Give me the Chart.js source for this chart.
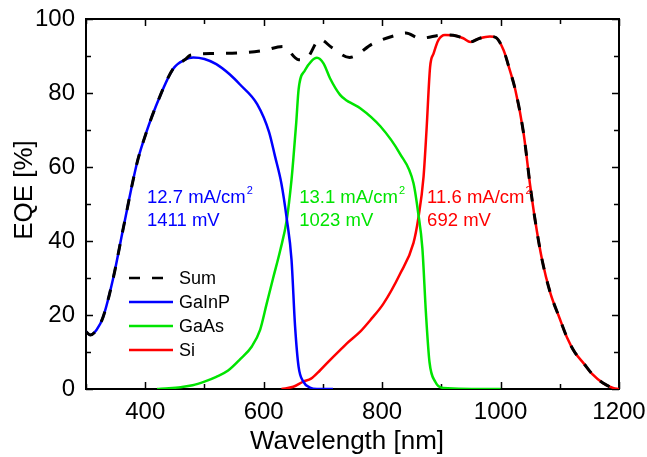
<!DOCTYPE html>
<html>
<head>
<meta charset="utf-8">
<script src="https://cdn.jsdelivr.net/npm/chart.js@4/dist/chart.umd.min.js"></script>
<style>
  html, body { margin: 0; padding: 0; background: #fff; }
  #wrap { width: 647px; height: 457px; }
</style>
</head>
<body>
<div id="wrap"><canvas id="eqe"></canvas></div>
<script>
//Datos (longitud de onda en nm, EQE en %)
const sumNm  = [300,307,318,329,346,363,386,397,417,447,467,476,515,555,597,633,659,672,695,715,745,785,825,840,864,906,920,937,949,965,982,992,1005,1015,1025,1039,1050,1058,1070,1084,1100,1112,1125,1140,1155,1173,1190,1200];
const sumEqe = [15.5,14.6,16,19.5,30,43.5,61,67,76,86.5,89,90.2,90.7,90.8,91.4,92.6,89,89.3,94.5,92.3,89.6,93.4,95.7,96.2,94.8,95.7,95.6,94.8,93.8,94.8,95.3,95,91.6,86.5,80.8,69,55,46,35,26,19,14,10,7,4,1.6,0.3,0];

const gainpNm  = [300,307,318,329,346,363,386,397,417,447,467,481,500,520,543,560,589,609,619,630,639,647,653,659,667,678,690,717];
const gainpEqe = [15.5,14.6,16,19.5,30,43.5,61,67,76,86.5,89,89.6,89.2,87.8,85,82.3,77,69.5,63,55.5,46,35,17,6,2,0.4,0,0];

const gaasNm  = [420,440,460,480,500,520,540,560,580,594,605,616,628,639,647,650,655,659,670,680,690,701,712,729,740,751,763,797,830,853,861,868,874,880,890,903,1000];
const gaasEqe = [0,0.2,0.5,1,2,3.3,5,8,11.5,16,23,30,37.5,45.7,56.5,62,72,81,86.2,88.5,89.5,88,84,79.5,78,77,75.9,71,63.6,55.6,47.5,38,20.5,7.3,1.9,0.3,0];

const siNm  = [630,650,667,680,695,712,729,741,763,780,802,830,853,861,870,875,881,887,895,906,920,937,949,965,982,992,1005,1015,1025,1039,1050,1058,1070,1084,1100,1112,1125,1140,1155,1173,1190,1200];
const siEqe = [0,0.6,2,2.8,5,7.8,10.5,12.4,15.5,18.6,23,31,39.5,46,57.4,70,87,90.7,94.3,95.7,95.6,94.8,93.8,94.8,95.3,95,91.6,86.5,80.8,69,55,46,35,26,19,14,10,7,4,1.6,0.3,0];

const seriesNames = ['Sum', 'GaInP', 'GaAs', 'Si'];
const xTickValues = [400, 600, 800, 1000, 1200];
const yTickValues = [0, 20, 40, 60, 80, 100];
const xTitle = 'Wavelength [nm]';
const yTitle = 'EQE [%]';
const currentLabels = ['12.7 mA/cm', '13.1 mA/cm', '11.6 mA/cm'];
const voltageLabels = ['1411 mV', '1023 mV', '692 mV'];

const colores = ['#000000', '#0000ff', '#00e400', '#ff0000'];
const fuente = '"Liberation Sans", Arial, sans-serif';

function puntos(xs, ys) {
  return xs.map((x, i) => ({ x: x, y: ys[i] }));
}

//Marco con ticks hacia dentro en los cuatro lados
const marco = {
  id: 'marco',
  beforeDatasetsDraw(chart) {
    const ctx = chart.ctx;
    const a = chart.chartArea;
    const xs = chart.scales.x, ys = chart.scales.y;
    ctx.save();
    ctx.strokeStyle = '#000';
    ctx.lineWidth = 1.5;
    ctx.beginPath();
    for (let v = 300; v <= 1200; v += 100) {
      const px = Math.round(xs.getPixelForValue(v)) + 0.5;
      const len = v % 200 === 0 ? 7 : 5;
      ctx.moveTo(px, a.bottom); ctx.lineTo(px, a.bottom - len);
      ctx.moveTo(px, a.top); ctx.lineTo(px, a.top + len);
    }
    for (let v = 0; v <= 100; v += 10) {
      const py = Math.round(ys.getPixelForValue(v)) + 0.5;
      const len = v % 20 === 0 ? 7 : 5;
      ctx.moveTo(a.left, py); ctx.lineTo(a.left + len, py);
      ctx.moveTo(a.right, py); ctx.lineTo(a.right - len, py);
    }
    ctx.stroke();
    ctx.lineWidth = 2;
    ctx.strokeRect(a.left, a.top, a.right - a.left, a.bottom - a.top);

    // titulos de los ejes
    ctx.fillStyle = '#000';
    ctx.font = '26px ' + fuente;
    ctx.textAlign = 'center';
    ctx.textBaseline = 'alphabetic';
    ctx.fillText(xTitle, 347, 449);
    ctx.translate(31.5, 190);
    ctx.rotate(-Math.PI / 2);
    ctx.fillText(yTitle, 0, 0);
    ctx.restore();
  }
};

//Leyenda dentro del area y textos de corriente/voltaje
const textos = {
  id: 'textos',
  afterDatasetsDraw(chart) {
    const ctx = chart.ctx;
    const xs = chart.scales.x, ys = chart.scales.y;
    ctx.save();
    // leyenda
    const filas = [278, 302, 326, 350];
    chart.data.datasets.forEach((ds, i) => {
      ctx.strokeStyle = ds.borderColor;
      ctx.lineWidth = 2.5;
      ctx.setLineDash(ds.borderDash || []);
      ctx.beginPath();
      ctx.moveTo(129, filas[i]);
      ctx.lineTo(173, filas[i]);
      ctx.stroke();
      ctx.setLineDash([]);
      ctx.fillStyle = '#000';
      ctx.font = '18px ' + fuente;
      ctx.textBaseline = 'middle';
      ctx.textAlign = 'left';
      ctx.fillText(ds.label, 179, filas[i] + 1);
    });
    // anotaciones
    const posX = [403, 660, 876];
    currentLabels.forEach((t, i) => {
      const x = xs.getPixelForValue(posX[i]);
      const y = ys.getPixelForValue(50.3);
      ctx.fillStyle = colores[i + 1];
      ctx.textBaseline = 'alphabetic';
      ctx.font = '18.5px ' + fuente;
      ctx.fillText(t, x, y);
      const w = ctx.measureText(t).width;
      ctx.font = '11px ' + fuente;
      ctx.fillText('2', x + w + 1, y - 9);
      ctx.font = '18.5px ' + fuente;
      ctx.fillText(voltageLabels[i], x, y + 23);
    });
    ctx.restore();
  }
};

const sinPadding = s => {
  s.paddingTop = 0; s.paddingBottom = 0; s.paddingLeft = 0; s.paddingRight = 0;
};

const series = [
  puntos(sumNm, sumEqe),
  puntos(gainpNm, gainpEqe),
  puntos(gaasNm, gaasEqe),
  puntos(siNm, siEqe)
];

const grafica = new Chart(document.getElementById('eqe'), {
  type: 'line',
  data: {
    datasets: series.map((d, i) => ({
      label: seriesNames[i],
      data: d,
      borderColor: colores[i],
      borderWidth: i === 0 ? 3 : 2.5,
      borderDash: i === 0 ? [11, 12] : [],
      pointRadius: 0,
      fill: false,
      cubicInterpolationMode: 'monotone'
    }))
  },
  options: {
    responsive: true,
    maintainAspectRatio: false,
    animation: false,
    layout: { padding: { left: 0, right: 28, top: 19, bottom: 0 } },
    plugins: {
      legend: { display: false },
      tooltip: { enabled: false }
    },
    scales: {
      x: {
        type: 'linear',
        min: 300,
        max: 1200,
        grid: { display: false, drawTicks: false },
        border: { display: false },
        afterBuildTicks: s => { s.ticks = xTickValues.map(v => ({ value: v })); },
        afterFit: s => { s.height = 68; sinPadding(s); },
        ticks: { color: '#000', padding: 9, maxRotation: 0, callback: v => String(v), font: { family: fuente, size: 24 } }
      },
      y: {
        min: 0,
        max: 100,
        grid: { display: false, drawTicks: false },
        border: { display: false },
        afterBuildTicks: s => { s.ticks = yTickValues.map(v => ({ value: v })); },
        afterFit: s => { s.width = 86; sinPadding(s); },
        ticks: { color: '#000', padding: 11, callback: v => String(v), font: { family: fuente, size: 24 } }
      }
    }
  },
  plugins: [marco, textos]
});
</script>
</body>
</html>
